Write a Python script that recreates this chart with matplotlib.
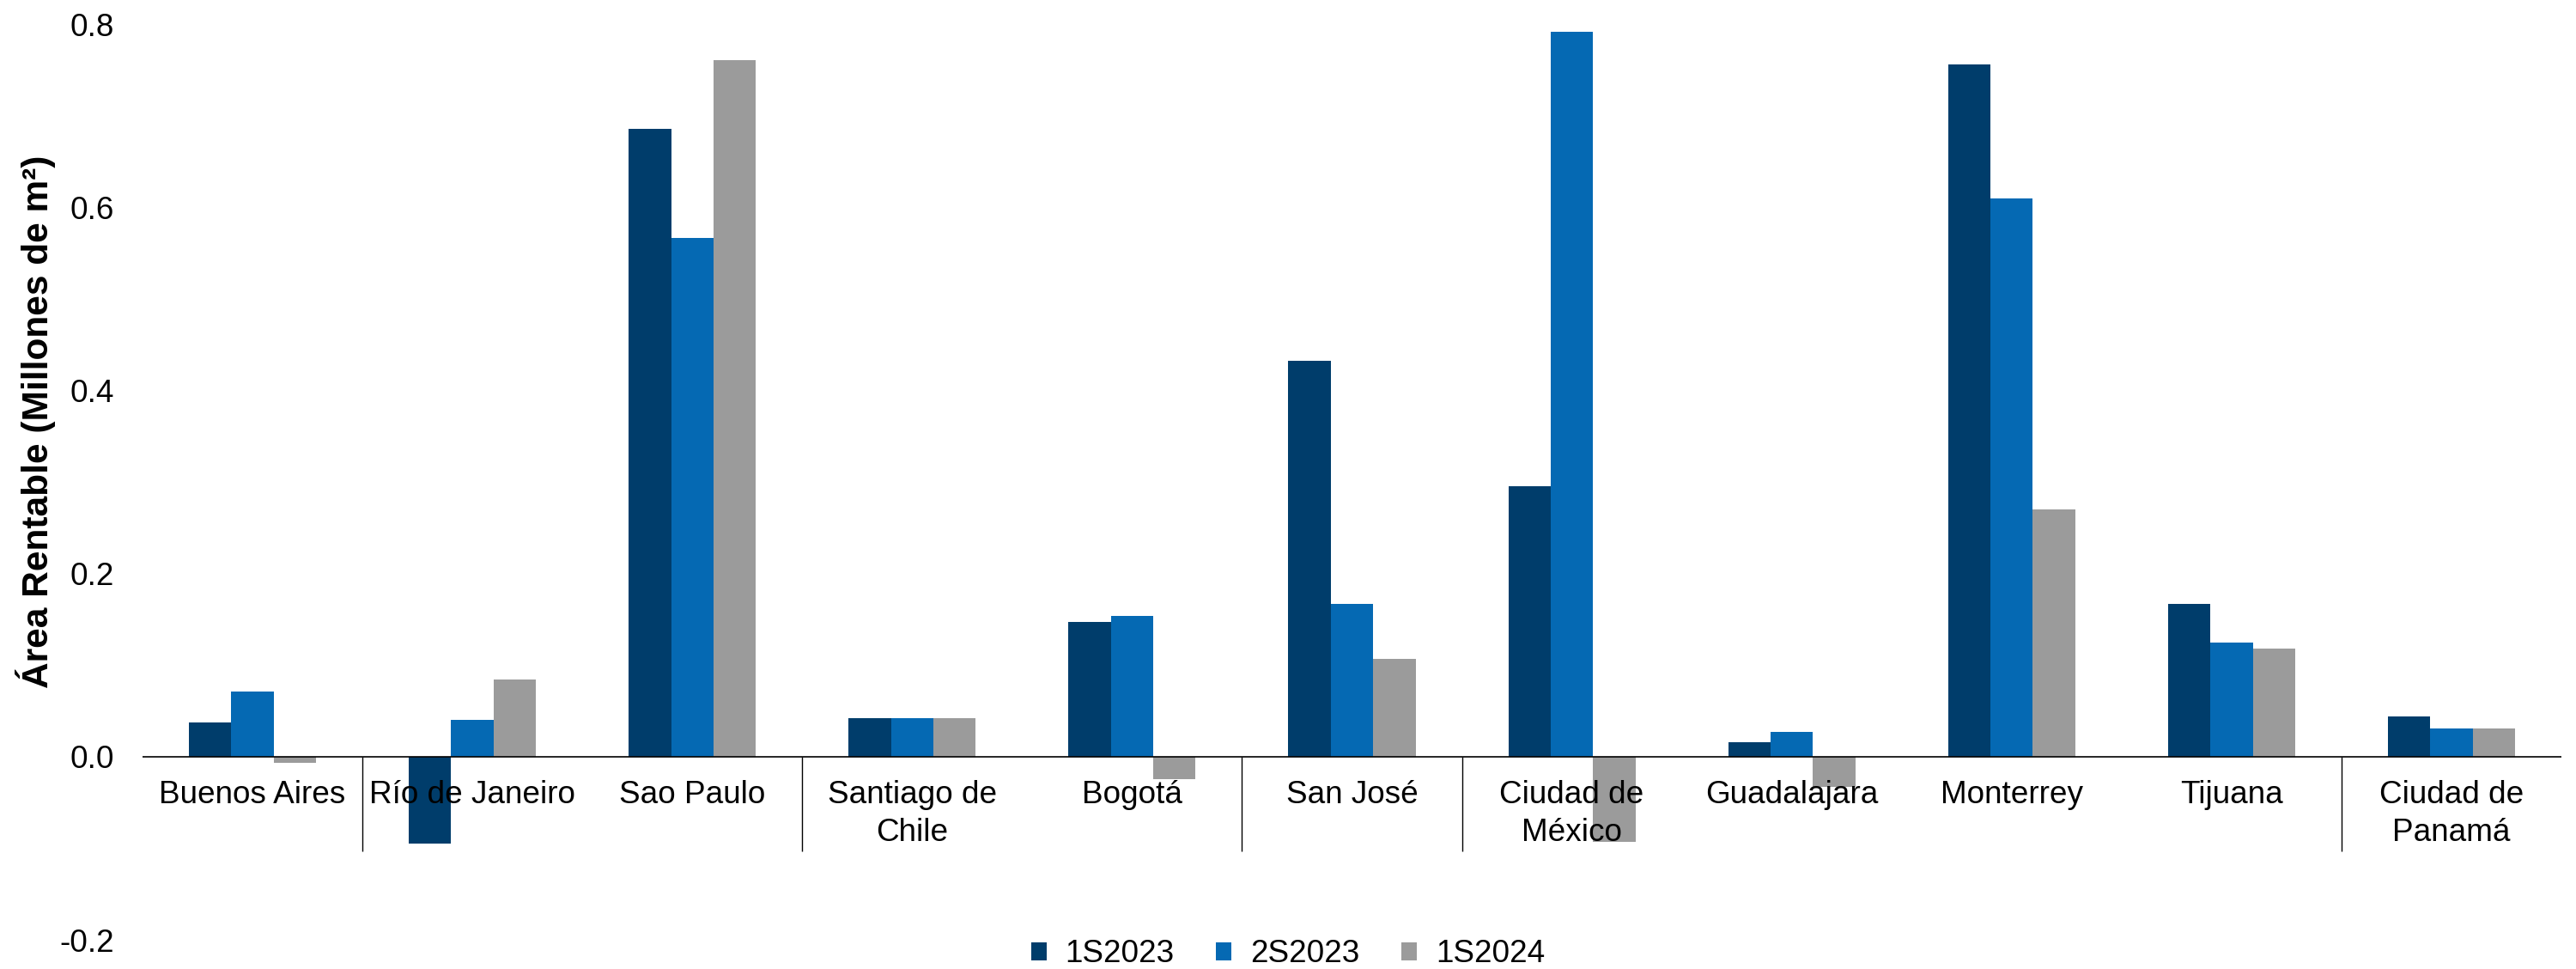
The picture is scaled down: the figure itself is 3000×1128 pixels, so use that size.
import matplotlib
matplotlib.use("Agg")
import matplotlib.pyplot as plt
import matplotlib.transforms as mtransforms
import numpy as np

plt.rcParams['font.family'] = ['Liberation Sans', 'DejaVu Sans']

categories = ["Buenos Aires", "Río de Janeiro", "Sao Paulo", "Santiago de\nChile", "Bogotá",
              "San José", "Ciudad de\nMéxico", "Guadalajara", "Monterrey", "Tijuana",
              "Ciudad de\nPanamá"]
series_names = ["1S2023", "2S2023", "1S2024"]
s1_2023 = [0.037, -0.095, 0.686, 0.042, 0.147, 0.432, 0.295, 0.016, 0.756, 0.167, 0.044]
s2_2023 = [0.071, 0.040, 0.566, 0.042, 0.154, 0.167, 0.792, 0.027, 0.610, 0.125, 0.031]
s1_2024 = [-0.0065, 0.084, 0.761, 0.042, -0.025, 0.107, -0.093, -0.033, 0.270, 0.118, 0.031]
colors = ["#003D6B", "#0569B3", "#9B9B9B"]
yticks = [-0.2, 0.0, 0.2, 0.4, 0.6, 0.8]
ytick_labels = ["-0.2", "0.0", "0.2", "0.4", "0.6", "0.8"]
# category boundaries (after category index) where separator ticks are visible
separator_after = [0, 2, 4, 5, 9]

W, H, DPI = 30.0, 11.28, 100
fig = plt.figure(figsize=(W, H), dpi=DPI)
left, right = 166 / 3000, 2983 / 3000
top_px, bot_px = 28, 1094
ax = fig.add_axes([left, 1 - bot_px / 1128, right - left, (bot_px - top_px) / 1128])

FS = 26.6
x = np.arange(len(categories))
bw = 0.1927
for k, (vals, name) in enumerate(zip([s1_2023, s2_2023, s1_2024], series_names)):
    ax.bar(x + (k - 1) * bw, vals, width=bw, color=colors[k], label=name, zorder=2)

ax.set_xlim(-0.5, len(categories) - 0.5)
ax.set_ylim(-0.2, 0.8)
ax.set_yticks(yticks)
ax.set_yticklabels(ytick_labels, fontsize=FS)
ax.tick_params(axis='y', length=0, pad=24)
ax.set_xticks([])
for sp in ax.spines.values():
    sp.set_visible(False)
ax.axhline(0, color='black', lw=1.2, zorder=3)

# separators
for s in separator_after:
    ax.plot([s + 0.5, s + 0.5], [0, -0.1035], color='black', lw=1.0, zorder=3,
            solid_capstyle='butt')

# category labels under the zero line
off = mtransforms.offset_copy(ax.transData, fig=fig, x=0, y=-27, units='dots')
for i, c in enumerate(categories):
    ax.text(i, 0, c, transform=off, ha='center', va='top', fontsize=FS,
            linespacing=1.33, zorder=4)

fig.text(42 / 3000, 1 - 491 / 1128, "Área Rentable (Millones de m²)", rotation=90,
         ha='center', va='center', fontsize=30.5, fontweight='bold')

leg = fig.legend(loc='center', bbox_to_anchor=(1500 / 3000, 1 - 1111 / 1128), ncol=3,
                 frameon=False, fontsize=FS, handlelength=0.49, handleheight=0.49,
                 handletextpad=0.59, columnspacing=1.32, borderpad=0, borderaxespad=0)

fig.savefig("out.png", dpi=DPI)
